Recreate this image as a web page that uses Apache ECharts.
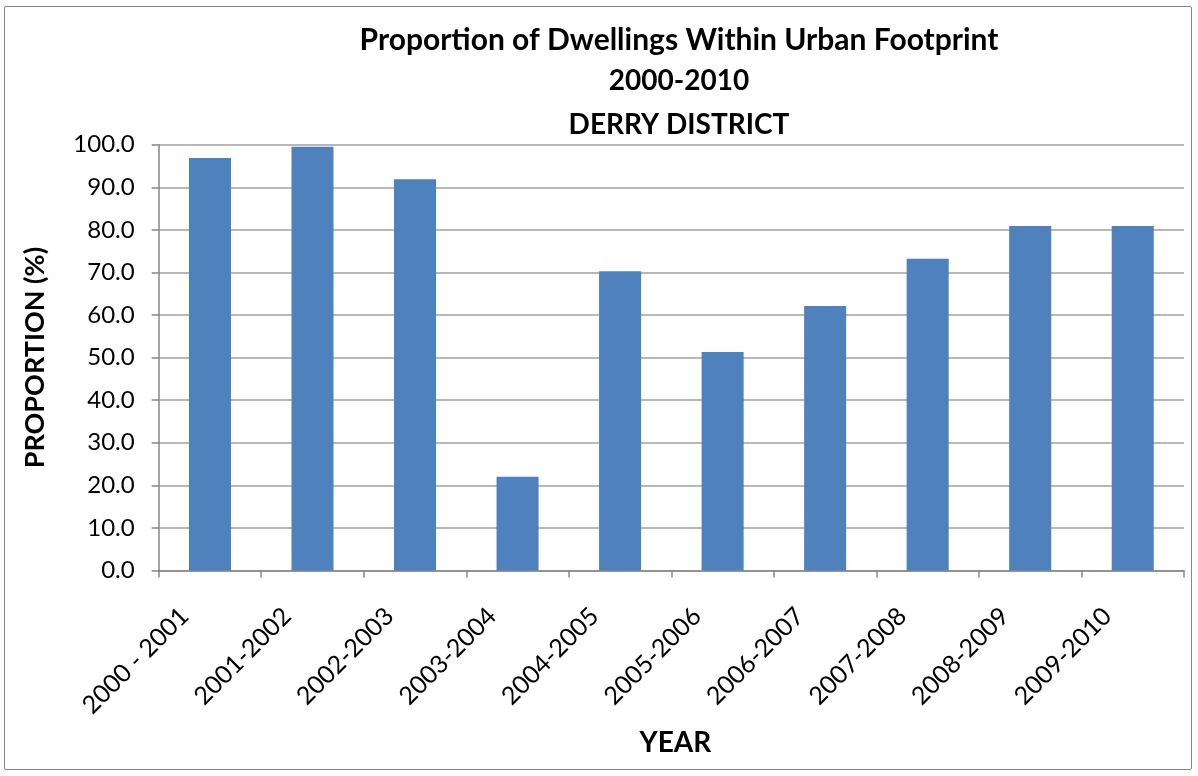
<!DOCTYPE html>
<html><head><meta charset="utf-8">
<script src="https://cdn.jsdelivr.net/npm/echarts@6/dist/echarts.min.js"></script>
<style>html,body{margin:0;padding:0;background:#fff;}#c{width:1198px;height:776px;}
#frame{position:absolute;left:4px;top:6px;width:1188px;height:764px;border:1.5px solid #868686;border-radius:2px;box-sizing:border-box;pointer-events:none;}</style>
</head><body><div id="c"></div><div id="frame"></div>
<script>
const categories = ['2000 - 2001','2001-2002','2002-2003','2003-2004','2004-2005','2005-2006','2006-2007','2007-2008','2008-2009','2009-2010'];
const proportion = [96.9, 99.5, 91.9, 22.0, 70.3, 51.3, 62.1, 73.2, 80.9, 80.9];
const titleLines = ['Proportion of Dwellings Within Urban Footprint','2000-2010','DERRY DISTRICT'];
const font = 'Lato, "Open Sans", sans-serif';
const chart = echarts.init(document.getElementById('c'));
const tStyle = {fontFamily:font,fontSize:30,fontWeight:'bold',color:'#000'};
chart.setOption({
  animation:false,
  backgroundColor:'#fff',
  title:[
    {text:titleLines[0], left:674, top:20, textAlign:'center', textStyle:tStyle},
    {text:titleLines[1], left:674, top:62, textAlign:'center', textStyle:Object.assign({},tStyle,{fontSize:28})},
    {text:titleLines[2], left:674, top:106, textAlign:'center', textStyle:Object.assign({},tStyle,{fontSize:28})}
  ],
  grid:{left:158.7, right:14, top:144.7, bottom:205.5, containLabel:false},
  xAxis:{type:'category', data:categories,
    name:'YEAR', nameLocation:'middle', nameGap:158,
    nameTextStyle:{fontFamily:font,fontSize:28,fontWeight:'bold',color:'#000',padding:[0,0,0,8]},
    axisLine:{lineStyle:{color:'#868686',width:1.5}},
    axisTick:{show:true,length:7,lineStyle:{color:'#868686',width:1.5},alignWithLabel:false},
    axisLabel:{rotate:45, fontFamily:font, fontSize:25, color:'#000', margin:16, interval:0, padding:[0,36,0,0]}
  },
  yAxis:{type:'value', min:0, max:100, interval:10,
    name:'PROPORTION (%)', nameLocation:'middle', nameGap:110, nameRotate:90,
    nameTextStyle:{fontFamily:font,fontSize:27,fontWeight:'bold',color:'#000'},
    axisLine:{show:true,lineStyle:{color:'#868686',width:1.5}},
    axisTick:{show:true,length:7,lineStyle:{color:'#868686',width:1.5}},
    axisLabel:{fontFamily:font,fontSize:24,color:'#000',margin:24,formatter:v=>v.toFixed(1)},
    splitLine:{lineStyle:{color:'#a0a0a0',width:1.5}}
  },
  series:[{type:'bar', data:proportion, barWidth:'41%', itemStyle:{color:'#4F81BD'}}]
});
</script></body></html>
